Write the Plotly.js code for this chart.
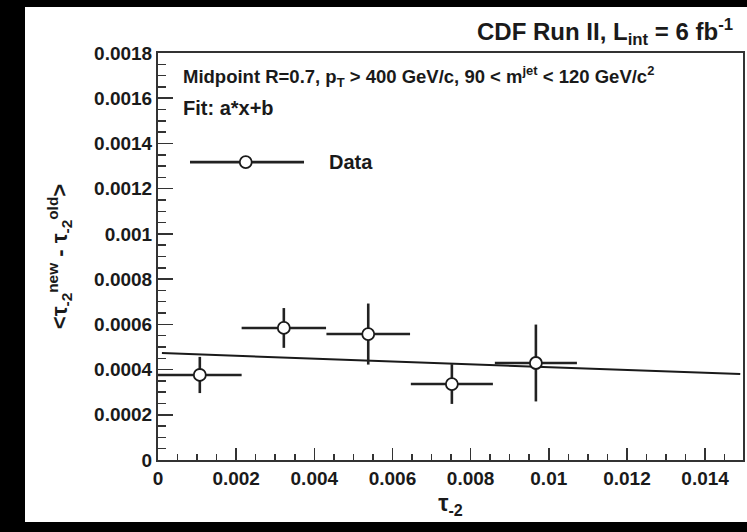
<!DOCTYPE html>
<html>
<head>
<meta charset="utf-8">
<script src="https://cdn.plot.ly/plotly-3.0.1.min.js"></script>
<style>
  html, body { margin:0; padding:0; background:#000; width:747px; height:532px; overflow:hidden; }
  #chart { position:absolute; left:25px; top:7px; width:722px; height:515px; background:#fff; }
</style>
</head>
<body>
<div id="chart"></div>
<script>
// ---- data ----
const tauCenters = [0.00107, 0.00322, 0.00538, 0.00752, 0.00967];
const tauHalfWidth = [0.00107, 0.00108, 0.00107, 0.00105, 0.00105];
const deltaMean = [0.000376, 0.000584, 0.000557, 0.000336, 0.000429];
const deltaErr = [0.00008, 0.000088, 0.000135, 0.000088, 0.00017];
const fitX = [0.0001, 0.0149];
const fitY = [0.000473, 0.00038];
const xTickVals = [0, 0.002, 0.004, 0.006, 0.008, 0.01, 0.012, 0.014];
const xTickText = ["0", "0.002", "0.004", "0.006", "0.008", "0.01", "0.012", "0.014"];
const yTickVals = [0, 0.0002, 0.0004, 0.0006, 0.0008, 0.001, 0.0012, 0.0014, 0.0016, 0.0018];
const yTickText = ["0", "0.0002", "0.0004", "0.0006", "0.0008", "0.001", "0.0012", "0.0014", "0.0016", "0.0018"];

const FONT = 'Liberation Sans, Arial, Helvetica, sans-serif';
const INK = '#1a1a1a';

const traces = [
  {
    x: fitX, y: fitY, type: 'scatter', mode: 'lines',
    line: {color: INK, width: 2}, showlegend: false, hoverinfo: 'skip'
  },
  {
    x: tauCenters, y: deltaMean, type: 'scatter', mode: 'markers', name: 'Data',
    marker: {symbol: 'circle', size: 12, color: '#fff', line: {color: INK, width: 1.8}},
    error_x: {type: 'data', array: tauHalfWidth, color: '#222', thickness: 2.6, width: 0},
    error_y: {type: 'data', array: deltaErr, color: '#222', thickness: 2.6, width: 0},
    showlegend: false
  }
];

const tickFont = {family: FONT, size: 19, color: INK, weight: 700};

const layout = {
  width: 722, height: 515,
  paper_bgcolor: '#fff', plot_bgcolor: '#fff',
  margin: {l: 133, r: 4, t: 46, b: 62},
  showlegend: false,
  font: {family: FONT, color: INK},
  xaxis: {
    range: [0, 0.01497], tickvals: xTickVals, ticktext: xTickText,
    ticks: 'inside', ticklen: 12, tickwidth: 1.5, tickcolor: '#333',
    minor: {dtick: 0.0005, tick0: 0, ticks: 'inside', ticklen: 6, tickwidth: 1.5, tickcolor: '#333'},
    showline: true, linecolor: '#333', linewidth: 2, mirror: true,
    showgrid: false, zeroline: false, tickfont: tickFont,
    title: {text: 'τ<sub>-2</sub>', font: {family: FONT, size: 23, color: INK, weight: 700}, standoff: 7}
  },
  yaxis: {
    range: [0, 0.0018], tickvals: yTickVals, ticktext: yTickText,
    ticks: 'inside', ticklen: 15, tickwidth: 1.5, tickcolor: '#333',
    minor: {dtick: 0.00005, tick0: 0, ticks: 'inside', ticklen: 8, tickwidth: 1.5, tickcolor: '#333'},
    showline: true, linecolor: '#333', linewidth: 2, mirror: true,
    showgrid: false, zeroline: false, tickfont: tickFont,
    title: {text: '&lt;τ<sub>-2</sub><sup>new</sup> - τ<sub>-2</sub><sup>old</sup>&gt;', font: {family: FONT, size: 22, color: INK, weight: 700}, standoff: 20}
  },
  annotations: [
    {xref: 'paper', yref: 'paper', x: 0.986, y: 1.052, xanchor: 'right', yanchor: 'middle', showarrow: false,
     text: 'CDF Run II, L<sub>int</sub> = 6 fb<sup>-1</sup>', font: {family: FONT, size: 24, color: INK, weight: 700}},
    {xref: 'paper', yref: 'paper', x: 0.039, y: 0.943, xanchor: 'left', yanchor: 'middle', showarrow: false,
     text: 'Midpoint R=0.7, p<sub>T</sub> &gt; 400 GeV/c, 90 &lt; m<sup>jet</sup> &lt; 120 GeV/c<sup>2</sup>',
     font: {family: FONT, size: 18.5, color: INK, weight: 700}},
    {xref: 'paper', yref: 'paper', x: 0.039, y: 0.865, xanchor: 'left', yanchor: 'middle', showarrow: false,
     text: 'Fit: a*x+b', font: {family: FONT, size: 20, color: INK, weight: 700}},
    {xref: 'paper', yref: 'paper', x: 0.289, y: 0.732, xanchor: 'left', yanchor: 'middle', showarrow: false,
     text: 'Data', font: {family: FONT, size: 20, color: INK, weight: 700}}
  ],
  shapes: [
    {type: 'line', xref: 'paper', yref: 'paper', x0: 0.0547, x1: 0.2496, y0: 0.732, y1: 0.732,
     line: {color: '#222', width: 2.6}},
    {type: 'circle', xref: 'paper', yref: 'paper', xsizemode: 'pixel', ysizemode: 'pixel',
     xanchor: 0.150, yanchor: 0.732, x0: -6, x1: 6, y0: -6, y1: 6,
     fillcolor: '#fff', line: {color: INK, width: 1.8}}
  ]
};

Plotly.newPlot('chart', traces, layout, {staticPlot: true, displayModeBar: false});
</script>
</body>
</html>
